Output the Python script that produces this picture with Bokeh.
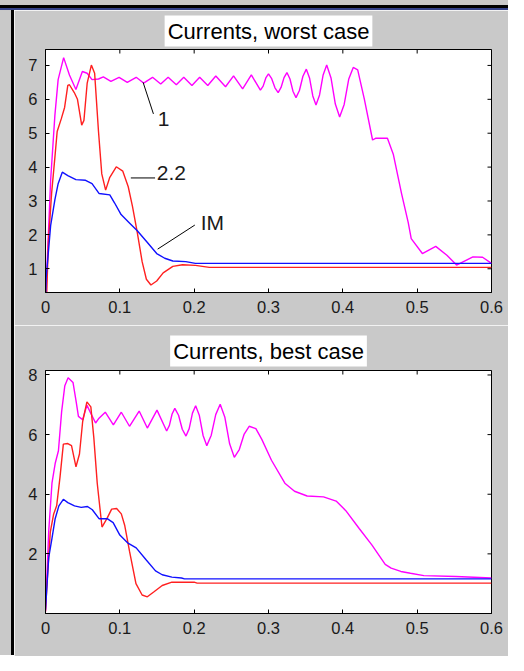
import math
from bokeh.plotting import figure
from bokeh.layouts import column, row
from bokeh.models import Label, FixedTicker, Title, Div
from bokeh.embed import file_html
from bokeh.resources import INLINE

# ---------------- data: worst case ----------------
w_im_x = [0, 0.0009, 0.0039, 0.0069, 0.0126, 0.017, 0.0226, 0.030, 0.0409, 0.0539, 0.0626, 0.0722,
          0.0865, 0.093, 0.1017, 0.1126, 0.1235, 0.1365, 0.1496, 0.1604, 0.1713, 0.1887, 0.2017, 0.6]
w_im_y = [0, 0.74, 1.5, 2.27, 3.03, 3.51, 3.85, 3.75, 3.63, 3.61, 3.51, 3.22,
          3.18, 2.94, 2.6, 2.36, 2.12, 1.79, 1.45, 1.31, 1.23, 1.21, 1.16, 1.16]

w_22_x = [0, 0.0017, 0.0039, 0.0082, 0.0126, 0.0157, 0.0213, 0.0257, 0.030, 0.0322, 0.0387, 0.043,
          0.0487, 0.0517, 0.0561, 0.0617, 0.0661, 0.0713, 0.0757, 0.0809, 0.0865, 0.0952, 0.104,
          0.1113, 0.117, 0.1235, 0.130, 0.1357, 0.1418, 0.1496, 0.1583, 0.1713, 0.1843, 0.2017,
          0.2204, 0.6]
w_22_y = [0, 0.31, 1.79, 3.22, 4.28, 5.05, 5.43, 5.76, 6.41, 6.43, 6.2, 6.0,
          5.24, 5.38, 6.48, 7.01, 6.77, 5.05, 3.8, 3.32, 3.7, 4.01, 3.88,
          3.42, 2.84, 2.07, 1.21, 0.69, 0.52, 0.64, 0.88, 1.07, 1.12, 1.10,
          1.04, 1.04]

w_1_x = [0, 0.0069, 0.0126, 0.017, 0.0244, 0.0322, 0.0409, 0.0496, 0.056, 0.0626, 0.0713, 0.0778,
         0.088, 0.099, 0.110, 0.122, 0.132, 0.144, 0.155, 0.165, 0.176, 0.186, 0.197, 0.2074,
         0.2183, 0.2291, 0.2422, 0.253, 0.2652, 0.2769, 0.2891, 0.2928, 0.2964, 0.300,
         0.3043, 0.3087, 0.313, 0.3169, 0.3209, 0.3248, 0.3289, 0.3329, 0.337,
         0.3416, 0.3463, 0.3509, 0.3552, 0.3596, 0.3639, 0.3687, 0.3735, 0.3783,
         0.3841, 0.3899, 0.3957, 0.4018, 0.408, 0.414, 0.420, 0.429, 0.440, 0.444,
         0.460, 0.468, 0.479, 0.488, 0.492, 0.507, 0.525, 0.540, 0.553, 0.575, 0.588, 0.6]
w_1_y = [0, 3.61, 5.52, 6.58, 7.23, 6.72, 6.29, 6.82, 6.77, 6.58, 6.6, 6.66,
         6.53, 6.65, 6.5, 6.65, 6.48, 6.65, 6.45, 6.65, 6.43, 6.65, 6.41, 6.65,
         6.41, 6.69, 6.37, 6.69, 6.31, 6.72, 6.27, 6.39, 6.63, 6.75,
         6.61, 6.34, 6.2, 6.35, 6.64, 6.79, 6.6, 6.24, 6.05,
         6.26, 6.68, 6.89, 6.63, 6.1, 5.83, 6.13, 6.72, 7.01,
         6.63, 5.86, 5.48, 5.85, 6.6, 6.94, 6.87, 6.0, 4.8, 4.85,
         4.85, 4.37, 3.22, 2.36, 1.89, 1.45, 1.66, 1.4, 1.11, 1.35, 1.34, 1.16]

# ---------------- data: best case ----------------
b_im_x = [0, 0.0043, 0.0087, 0.013, 0.018, 0.024, 0.030, 0.039, 0.048, 0.0565, 0.063, 0.072,
          0.083, 0.091, 0.100, 0.111, 0.122, 0.135, 0.148, 0.157, 0.170, 0.183, 0.187, 0.6]
b_im_y = [0.13, 1.87, 2.52, 3.18, 3.61, 3.83, 3.72, 3.61, 3.56, 3.59, 3.48, 3.18,
          3.18, 3.05, 2.63, 2.36, 2.2, 1.81, 1.43, 1.3, 1.22, 1.19, 1.16, 1.16]

b_22_x = [0, 0.002, 0.0065, 0.011, 0.015, 0.0196, 0.024, 0.030, 0.035, 0.041, 0.0457, 0.050,
          0.0557, 0.061, 0.065, 0.0696, 0.076, 0.0826, 0.089, 0.0957, 0.102, 0.1065, 0.113,
          0.1217, 0.130, 0.137, 0.146, 0.157, 0.170, 0.200, 0.204, 0.6]
b_22_y = [0.07, 1.0, 2.74, 3.34, 3.61, 4.59, 5.68, 5.7, 5.63, 4.92, 5.35, 6.44,
          7.1, 6.93, 5.9, 4.37, 2.9, 3.18, 3.5, 3.52, 3.34, 2.96, 2.09,
          1.0, 0.62, 0.56, 0.73, 0.94, 1.05, 1.05, 1.02, 1.02]

b_1_x = [0, 0.0043, 0.0087, 0.013, 0.0174, 0.0217, 0.026, 0.0304, 0.037, 0.0413, 0.0443, 0.050,
         0.0557, 0.061, 0.0674, 0.072, 0.0804, 0.0913, 0.102, 0.113, 0.126, 0.137, 0.150, 0.163,
         0.1667, 0.1703, 0.174, 0.179, 0.184, 0.189, 0.1933, 0.1977, 0.202, 0.207, 0.212, 0.217,
         0.223, 0.229, 0.235, 0.2413, 0.2477, 0.254, 0.2607, 0.2673, 0.274, 0.283, 0.291, 0.304,
         0.322, 0.335, 0.352, 0.374, 0.391, 0.404, 0.422, 0.439, 0.457, 0.465, 0.478, 0.491,
         0.509, 0.552, 0.6]
b_1_y = [0.07, 2.74, 4.37, 5.03, 5.46, 6.77, 7.64, 7.91, 7.75, 7.1, 6.61, 6.5,
         6.99, 6.71, 6.39, 6.55, 6.75, 6.33, 6.75, 6.28, 6.79, 6.22, 6.82, 6.12,
         6.31, 6.69, 6.88, 6.65, 6.18, 5.95, 6.2, 6.72, 6.97, 6.64, 5.97, 5.63,
         5.98, 6.67, 7.02, 6.58, 5.69, 5.24, 5.5, 6.02, 6.28, 6.2, 5.84, 5.14,
         4.37, 4.1, 3.94, 3.91, 3.77, 3.45, 2.85, 2.3, 1.65, 1.52, 1.41, 1.35,
         1.27, 1.24, 1.19]

x_ticks = [0, 0.1, 0.2, 0.3, 0.4, 0.5, 0.6]
w_y_ticks = [1, 2, 3, 4, 5, 6, 7]
b_y_ticks = [2, 4, 6, 8]
titles = ["Currents, worst case", "Currents, best case"]

# annotation (worst case): labels and leader lines
ann_text = ["1", "2.2", "IM"]
ann_tx = [0.159, 0.1496, 0.2087]
ann_ty = [5.43, 3.82, 2.36]
lead_x0 = [0.1313, 0.1148, 0.1509]
lead_y0 = [6.50, 3.68, 1.58]
lead_x1 = [0.1452, 0.1474, 0.2009]
lead_y1 = [5.57, 3.68, 2.29]

GRAY = "#c9c9c9"
FONT = "Liberation Sans"
MAG, RED, BLUE = "#ff00ff", "#ff2020", "#1010ff"


def make_fig(y_range, y_ticks, title, standoff, mb):
    left, right, top, bottom = mb
    p = figure(frame_width=446, frame_height=243, x_range=(0, 0.6), y_range=y_range,
               output_backend="svg", toolbar_location=None,
               min_border_left=left, min_border_right=right,
               min_border_top=top, min_border_bottom=bottom,
               background_fill_color="white", border_fill_color=GRAY,
               outline_line_color="black", outline_line_width=1)
    p.grid.visible = False
    for ax in (p.xaxis[0], p.yaxis[0]):
        ax.major_tick_in = 4
        ax.major_tick_out = 0
        ax.minor_tick_line_color = None
        ax.axis_line_color = "black"
        ax.major_tick_line_color = "black"
        ax.major_label_text_font = FONT
        ax.major_label_text_font_size = "16.5px"
        ax.major_label_text_color = "#1a1a1a"
    p.xaxis[0].ticker = FixedTicker(ticks=x_ticks)
    p.xaxis[0].major_label_overrides = {0: "0"}
    p.xaxis[0].major_label_standoff = 8
    p.yaxis[0].ticker = FixedTicker(ticks=y_ticks)
    p.yaxis[0].major_label_standoff = 8
    # mirrored tick marks on top and right edges (half of each dash is clipped by the frame)
    p.scatter(x_ticks, [y_range[1]] * len(x_ticks), marker="dash", size=8,
              angle=math.pi / 2, line_color="black", line_width=1)
    p.scatter([x_ticks[-1]] * len(y_ticks), y_ticks, marker="dash", size=8,
              line_color="black", line_width=1)
    p.add_layout(Title(text=title, align="center", text_font=FONT, text_font_size="22px",
                       text_font_style="normal", text_color="black",
                       background_fill_color="white", padding=3, standoff=standoff), "above")
    return p


p1 = make_fig((0.3, 7.47), w_y_ticks, titles[0], 6, (31, 17, 38, 33))
p1.line(w_1_x, w_1_y, color=MAG, line_width=1.4)
p1.line(w_22_x, w_22_y, color=RED, line_width=1.4)
p1.line(w_im_x, w_im_y, color=BLUE, line_width=1.4)
p1.segment(lead_x0, lead_y0, lead_x1, lead_y1, color="black", line_width=1)
for t, tx, ty, al in zip(ann_text, ann_tx, ann_ty, ["center", "left", "left"]):
    p1.add_layout(Label(x=tx, y=ty, text=t, text_align=al, text_baseline="middle",
                        text_font=FONT, text_font_size="21px", text_color="#1a1a1a"))

p2 = make_fig((0, 8.15), b_y_ticks, titles[1], 8, (28, 20, 45, 43))
p2.line(b_1_x, b_1_y, color=MAG, line_width=1.4)
p2.line(b_22_x, b_22_y, color=RED, line_width=1.4)
p2.line(b_im_x, b_im_y, color=BLUE, line_width=1.4)

top_bar = Div(width=508, height=10, margin=0,
              styles={"background": "linear-gradient(to bottom, %s 0px, %s 5px, #000 5px, #000 8px, "
                                     "#34428a 8px, #34428a 10px)" % (GRAY, GRAY)})
left_bar = Div(width=14, height=645, margin=0,
               styles={"background": "linear-gradient(to right, %s 0px, %s 11px, #000 11px, #000 14px)"
                                     % (GRAY, GRAY)})
layout = column(top_bar, row(left_bar, column(p1, p2, spacing=0), spacing=0), spacing=0)

open("out.html", "w").write(file_html(layout, INLINE))
